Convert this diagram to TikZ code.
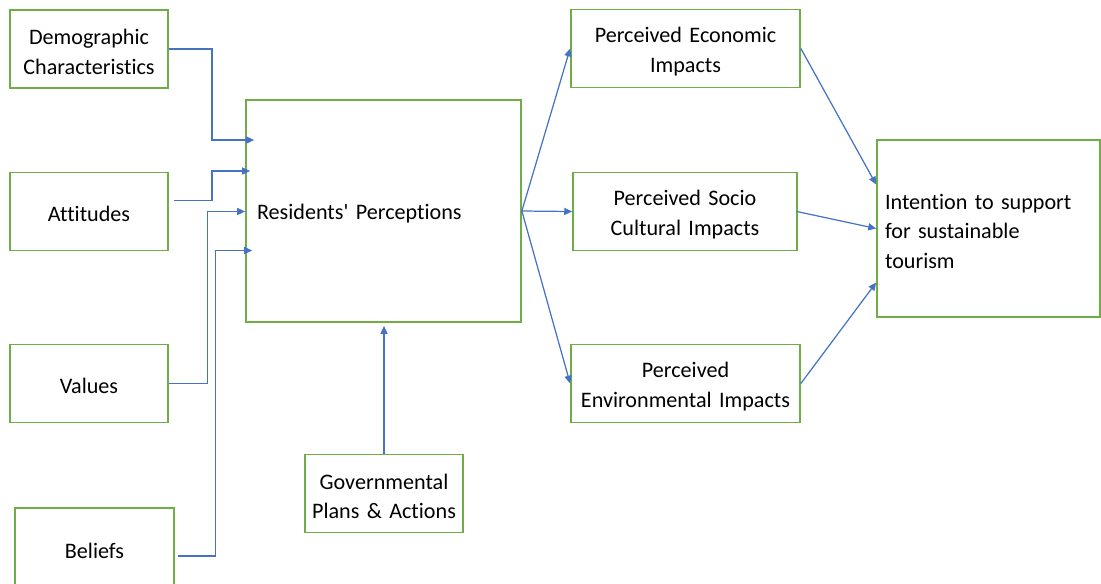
\documentclass[tikz,border=0pt]{standalone}
\usepackage{fontspec}
\setmainfont[Ligatures={NoCommon}]{Carlito}
\usetikzlibrary{arrows.meta}
\definecolor{boxgreen}{RGB}{112,173,71}
\definecolor{linkblue}{RGB}{68,114,196}

\begin{document}
\begin{tikzpicture}[x=0.02cm,y=-0.02cm,
        factor/.style={draw=boxgreen,line width=1pt,minimum height=1.56cm,align=center,inner xsep=0.1cm,
            font=\fontsize{12.6}{17}\selectfont,execute at begin node={\rule{0pt}{12pt}}},
        link/.style={draw=linkblue,line width=0.7pt,-{Triangle[length=4.5pt,width=4pt]}}]
    \useasboundingbox (0,0) rectangle (1101,583);
    % factors on the left
    \node[factor,text width=2.96cm] (demo) at (89,49) {Demographic\\Characteristics};
    \node[factor,text width=2.96cm] (att) at (89,211.5) {Attitudes};
    \node[factor,text width=2.96cm] (val) at (89,383.5) {Values};
    \node[factor,text width=2.98cm,minimum height=1.6cm] (bel) at (94.5,548) {Beliefs};
    % perceptions and government
    \node[factor,text width=5.06cm,inner xsep=0.22cm,minimum height=4.44cm,align=left] (rp) at (383.5,211) {Residents\textquotesingle{} Perceptions};
    \node[factor,text width=2.96cm] (gov) at (384,493.5) {Governmental\\Plans \& Actions};
    % impacts
    \node[factor,text width=4.38cm] (eco) at (685.5,48.5) {Perceived Economic\\Impacts};
    \node[factor,text width=4.28cm] (soc) at (685,211.5) {Perceived Socio\\Cultural Impacts};
    \node[factor,text width=4.38cm] (env) at (685.5,383.5) {Perceived\\Environmental Impacts};
    % intention
    \node[factor,text width=4.14cm,inner xsep=0.16cm,minimum height=3.54cm,align=left] (int) at (988.5,228.5) {Intention to support\\for sustainable\\tourism};

    \draw[link] (demo.east) -| (212,140) -- ([xshift=0.18cm]rp.west |- 0,140);
    \draw[link] ([shift={(5,-11)}]att.east) -| (212,171) -- ([xshift=0.1cm]rp.west |- 0,171);
    \draw[link] (val.east) -| (207.5,211.5) -- (rp.west |- 0,211.5);
    \draw[link] ([shift={(3,8)}]bel.east) -| (215.5,250.5) -- ([xshift=0.14cm]rp.west |- 0,250.5);
    \draw[link] (gov.north) -- ([yshift=-0.06cm]gov.north |- rp.south);

    \draw[link] (rp.east) -- (eco.west);
    \draw[link] (rp.east) -- (soc.west);
    \draw[link] (rp.east) -- (env.west);

    \draw[link] (eco.east) -- ([yshift=0.88cm]int.west);
    \draw[link] ([xshift=-0.02cm]soc.east) -- (int.west);
    \draw[link] (env.east) -- ([yshift=-1.08cm]int.west);
\end{tikzpicture}
\end{document}
